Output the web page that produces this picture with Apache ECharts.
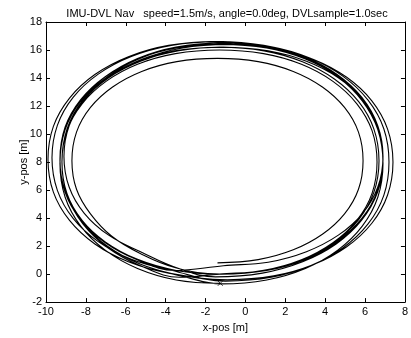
<!DOCTYPE html>
<html><head><meta charset="utf-8">
<script src="https://cdn.jsdelivr.net/npm/echarts@6/dist/echarts.min.js"></script>
<style>html,body{margin:0;padding:0;background:#fff}#c{width:411px;height:338px}</style>
</head><body><div id="c"></div>
<script>
const titleText = 'IMU-DVL Nav   speed=1.5m/s, angle=0.0deg, DVLsample=1.0sec';
const xName = 'x-pos [m]';
const yName = 'y-pos [m]';
const xTicks = [-10, -8, -6, -4, -2, 0, 2, 4, 6, 8];
const yTicks = [-2, 0, 2, 4, 6, 8, 10, 12, 14, 16, 18];

// trajectory loops (x, y), counter-clockwise starting at the bottom
const loop1X = [-1.4, 0.64, 2.4, 3.86, 4.97, 5.67, 5.9, 5.67, 4.97, 3.86, 2.4, 0.64, -1.4, -3.44, -5.2, -6.66, -7.77, -8.47, -8.7, -8.47, -7.77, -6.7, -5.25, -3.5];
const loop1Y = [0.8, 1.03, 1.73, 2.84, 4.3, 6.06, 8.1, 10.14, 11.9, 13.36, 14.47, 15.17, 15.4, 15.17, 14.47, 13.36, 11.9, 10.14, 8.1, 6.06, 4.3, 2.7, 1.45, 0.45];
const loop2X = [-1.3, 0.91, 2.81, 4.39, 5.59, 6.35, 6.6, 6.35, 5.59, 4.39, 2.81, 0.91, -1.3, -3.51, -5.41, -6.99, -8.19, -8.95, -9.2, -8.95, -8.19, -6.99, -5.41, -3.51];
const loop2Y = [0.0, 0.26, 1.02, 2.24, 3.84, 5.76, 8.0, 10.24, 12.16, 13.76, 14.98, 15.74, 16.0, 15.74, 14.98, 13.76, 12.16, 10.24, 8.0, 5.76, 3.84, 2.24, 1.02, 0.26];
const loop3X = [-1.2, 1.07, 3.01, 4.63, 5.86, 6.64, 6.9, 6.64, 5.86, 4.63, 3.01, 1.07, -1.2, -3.47, -5.41, -7.03, -8.26, -9.04, -9.3, -9.04, -8.26, -7.03, -5.41, -3.47];
const loop3Y = [0.0, 0.26, 1.05, 2.3, 3.94, 5.9, 8.2, 10.5, 12.46, 14.1, 15.35, 16.14, 16.4, 16.14, 15.35, 14.1, 12.46, 10.5, 8.2, 5.9, 3.94, 2.3, 1.05, 0.26];
const loop4X = [-1.4, 0.92, 2.92, 4.58, 5.84, 6.63, 6.9, 6.63, 5.84, 4.58, 2.92, 0.92, -1.4, -3.72, -5.72, -7.38, -8.64, -9.43, -9.7, -9.43, -8.64, -7.38, -5.72, -3.72];
const loop4Y = [0.0, 0.27, 1.06, 2.32, 3.98, 5.98, 8.3, 10.62, 12.62, 14.28, 15.54, 16.33, 16.6, 16.33, 15.54, 14.28, 12.62, 10.62, 8.3, 5.98, 3.98, 2.32, 1.06, 0.27];
const loop5X = [-1.0, 1.3, 3.26, 4.9, 6.15, 6.94, 7.2, 6.94, 6.15, 4.9, 3.26, 1.3, -1.0, -3.3, -5.26, -6.9, -8.15, -8.94, -9.2, -8.94, -8.15, -6.9, -5.26, -3.3];
const loop5Y = [-0.5, -0.23, 0.59, 1.88, 3.58, 5.62, 8.0, 10.38, 12.42, 14.12, 15.41, 16.23, 16.5, 16.23, 15.41, 14.12, 12.42, 10.38, 8.0, 5.62, 3.58, 1.88, 0.59, -0.23];
const loop6X = [-1.3, 0.94, 2.86, 4.46, 5.68, 6.44, 6.7, 6.44, 5.68, 4.46, 2.86, 0.94, -1.3, -3.54, -5.46, -7.06, -8.28, -9.04, -9.3, -9.04, -8.28, -7.06, -5.46, -3.54];
const loop6Y = [0.0, 0.26, 1.04, 2.27, 3.89, 5.83, 8.1, 10.37, 12.31, 13.93, 15.16, 15.94, 16.2, 15.94, 15.16, 13.93, 12.31, 10.37, 8.1, 5.83, 3.89, 2.27, 1.04, 0.26];
const loop7X = [-1.1, 1.14, 3.06, 4.66, 5.88, 6.64, 6.9, 6.64, 5.88, 4.66, 3.06, 1.14, -1.1, -3.34, -5.26, -6.86, -8.08, -8.84, -9.1, -8.84, -8.08, -6.86, -5.26, -3.34];
const loop7Y = [0.6, 0.85, 1.6, 2.78, 4.34, 6.22, 8.4, 10.58, 12.46, 14.02, 15.2, 15.95, 16.2, 15.95, 15.2, 14.02, 12.46, 10.58, 8.4, 6.22, 4.34, 2.78, 1.6, 0.4];
const loop8X = [-1.5, 0.85, 2.87, 4.55, 5.82, 6.63, 6.9, 6.63, 5.82, 4.55, 2.87, 0.85, -1.5, -3.85, -5.87, -7.55, -8.82, -9.63, -9.9, -9.63, -8.82, -7.55, -5.87, -3.85];
const loop8Y = [-0.2, 0.07, 0.88, 2.15, 3.83, 5.85, 8.2, 10.55, 12.57, 14.25, 15.52, 16.33, 16.6, 16.33, 15.52, 14.25, 12.57, 10.55, 8.2, 5.85, 3.83, 2.15, 0.88, 0.07];
const loop9X = [-0.9, 1.42, 3.42, 5.08, 6.34, 7.13, 7.4, 7.13, 6.34, 5.08, 3.42, 1.42, -0.9, -3.22, -5.22, -6.88, -8.14, -8.93, -9.2, -8.93, -8.14, -6.88, -5.22, -3.22];
const loop9Y = [-0.4, -0.13, 0.68, 1.95, 3.63, 5.65, 8.0, 10.35, 12.37, 14.05, 15.32, 16.13, 16.4, 16.13, 15.32, 14.05, 12.37, 10.35, 8.0, 5.65, 3.63, 1.95, 0.68, -0.13];
const loop10X = [-1.2, 1.07, 3.01, 4.63, 5.86, 6.64, 6.9, 6.64, 5.86, 4.63, 3.01, 1.07, -1.2, -3.47, -5.41, -7.03, -8.26, -9.04, -9.3, -9.04, -8.26, -7.03, -5.41, -3.47, -1.26];
const loop10Y = [-0.7, -0.42, 0.4, 1.71, 3.43, 5.49, 7.9, 10.31, 12.37, 14.09, 15.4, 16.22, 16.5, 16.22, 15.4, 14.09, 12.37, 10.31, 7.9, 5.49, 3.43, 1.71, 0.4, -0.42, -0.66];

const loopsX = [loop1X, loop2X, loop3X, loop4X, loop5X, loop6X, loop7X, loop8X, loop9X, loop10X];
const loopsY = [loop1Y, loop2Y, loop3Y, loop4Y, loop5Y, loop6Y, loop7Y, loop8Y, loop9Y, loop10Y];

const track = [];
loopsX.forEach((lx, i) => lx.forEach((x, j) => track.push([x, loopsY[i][j]])));
const endPoint = track[track.length - 1];

const font = 'Liberation Sans, Arial, sans-serif';
const axisCommon = {
  type: 'value',
  axisLine: { show: true, onZero: false, lineStyle: { color: '#000', width: 1 } },
  axisTick: { show: true, inside: true, length: 4, lineStyle: { color: '#000' } },
  splitLine: { show: false },
  axisLabel: { color: '#000', fontFamily: font, fontSize: 11 }
};

const chart = echarts.init(document.getElementById('c'), null, { renderer: 'canvas' });
chart.setOption({
  animation: false,
  backgroundColor: '#fff',
  title: {
    text: titleText, left: 222, top: 3, textAlign: 'center',
    textStyle: { fontFamily: font, fontSize: 11, fontWeight: 'normal', color: '#000' }
  },
  grid: { left: 46, right: 6, top: 22, bottom: 33 },
  xAxis: [
    Object.assign({}, axisCommon, {
      min: xTicks[0], max: xTicks[xTicks.length - 1], interval: 2, position: 'bottom',
      name: xName, nameLocation: 'middle', nameGap: 19,
      nameTextStyle: { color: '#000', fontFamily: font, fontSize: 11 },
      axisLabel: { color: '#000', fontFamily: font, fontSize: 11, margin: 4 }
    }),
    Object.assign({}, axisCommon, {
      min: xTicks[0], max: xTicks[xTicks.length - 1], interval: 2, position: 'top',
      axisLabel: { show: false }
    })
  ],
  yAxis: [
    Object.assign({}, axisCommon, {
      min: yTicks[0], max: yTicks[yTicks.length - 1], interval: 2, position: 'left',
      name: yName, nameLocation: 'middle', nameGap: 17, nameMoveOverlap: false,
      nameTextStyle: { color: '#000', fontFamily: font, fontSize: 11 },
      axisLabel: { color: '#000', fontFamily: font, fontSize: 11, margin: 4 }
    }),
    Object.assign({}, axisCommon, {
      min: yTicks[0], max: yTicks[yTicks.length - 1], interval: 2, position: 'right',
      axisLabel: { show: false }
    })
  ],
  series: [
    {
      type: 'line', data: track, smooth: 0.4, symbol: 'none',
      lineStyle: { color: '#000', width: 1.1 }
    },
    {
      type: 'scatter', data: [endPoint],
      symbol: 'path://M0,0L10,10M10,0L0,10', symbolSize: 5,
      itemStyle: { color: 'transparent', borderColor: '#111', borderWidth: 1 }
    }
  ]
});
</script></body></html>
